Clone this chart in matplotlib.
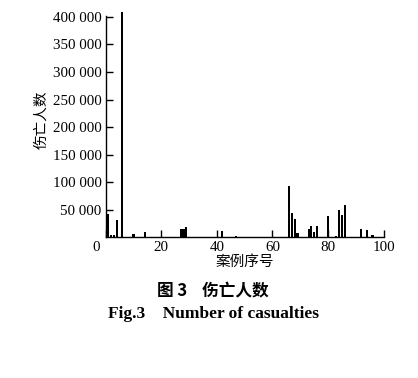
import matplotlib
matplotlib.use("Agg")
import matplotlib.pyplot as plt
from matplotlib.ticker import FuncFormatter
from matplotlib.transforms import ScaledTranslation

# ── Data ─────────────────────────────────────────────────────────────────────

case_no = [0, 1, 2, 3, 4, 6, 10, 14, 27, 28, 29, 42, 47, 52,
           66, 67, 68, 69, 73, 74, 75, 76, 78, 80, 83, 84, 85, 86,
           92, 94, 96]
casualties = [46700, 42500, 5000, 4000, 31600, 409000, 6000, 9000,
              14600, 14600, 18000, 12300, 1500, 1000,
              92400, 43800, 32900, 7300, 14600, 21200, 9100, 20100,
              1200, 38900, 2000, 49900, 40200, 59000,
              14600, 12800, 4700]

x_ticks = [0, 20, 40, 60, 80, 100]
y_ticks = [50000, 100000, 150000, 200000, 250000, 300000, 350000, 400000]

CJK = ["Noto Sans CJK SC", "DejaVu Sans"]
SERIF = ["Liberation Serif", "DejaVu Serif"]

# ── Plot ─────────────────────────────────────────────────────────────────────

fig = plt.figure(figsize=(4.18, 3.78), dpi=100)
ax = fig.add_axes([0.2528, 0.3722, 0.6650, 0.5860])

bars = ax.bar(case_no, casualties, width=0.75, color="black", linewidth=0)
for b in bars:
    if b.get_height() > 400000:
        b.set_clip_on(False)

ax.set_xlim(0, 100)
ax.set_ylim(0, 402000)
ax.set_xticks(x_ticks)
ax.set_yticks(y_ticks)
ax.yaxis.set_major_formatter(
    FuncFormatter(lambda v, p: f"{int(v):,}".replace(",", " ")))

for s in ("top", "right"):
    ax.spines[s].set_visible(False)
for s in ("left", "bottom"):
    ax.spines[s].set_linewidth(1.0)

ax.tick_params(direction="in", length=5, width=1.0, labelsize=10.8, pad=3)
for lab in ax.get_xticklabels() + ax.get_yticklabels():
    lab.set_family(SERIF)

# origin label sits left of the axis corner
zero = ax.get_xticklabels()[0]
zero.set_transform(zero.get_transform()
                   + ScaledTranslation(-0.10, 0, fig.dpi_scale_trans))

ax.set_xlabel("案例序号", family=CJK, fontsize=10.5, labelpad=0)
ax.set_ylabel("伤亡人数", family=CJK, fontsize=10.5, labelpad=3)
ax.yaxis.label.set_y(0.53)

fig.text(0.51, 0.230, "图 3    伤亡人数", family=CJK, fontsize=12,
         weight="bold", ha="center", va="center")
fig.text(0.51, 0.169, "Fig.3    Number of casualties", family=SERIF,
         fontsize=12.5, weight="bold", ha="center", va="center")

fig.savefig("out.png", dpi=100)
